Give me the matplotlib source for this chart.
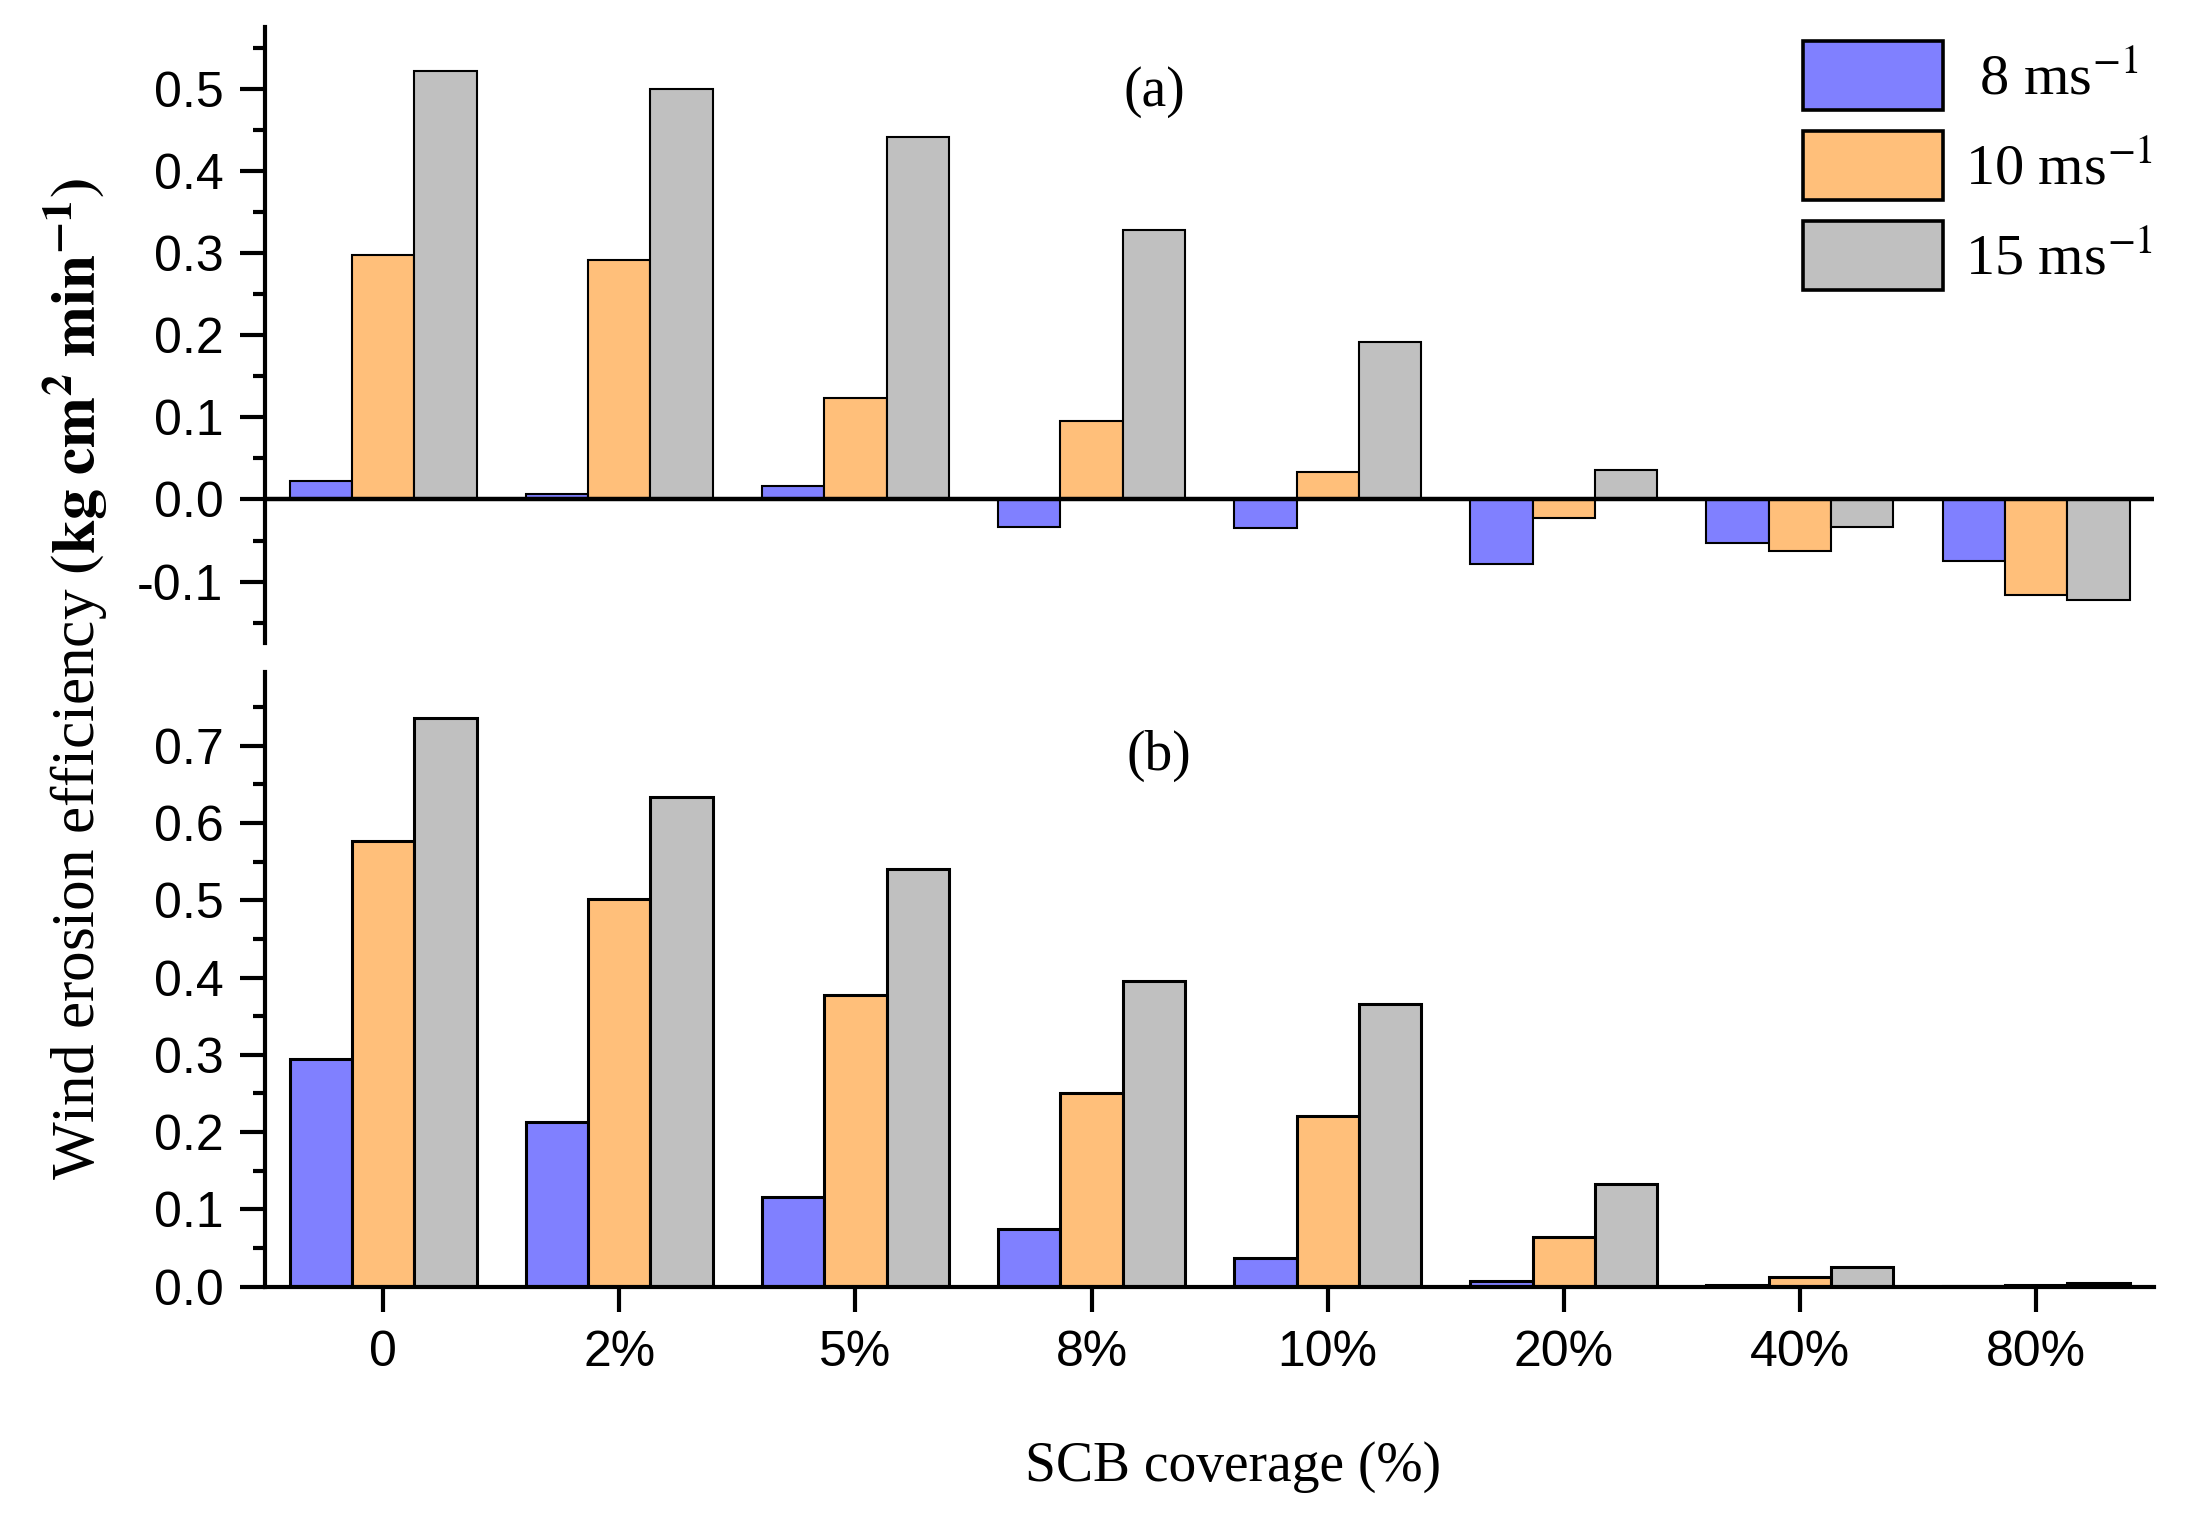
import numpy as np
import matplotlib
matplotlib.use("Agg")
from matplotlib import pyplot as plt
from matplotlib.patches import Patch
from matplotlib.ticker import MultipleLocator, FormatStrFormatter

plt.rcParams['font.family'] = ['Liberation Sans', 'DejaVu Sans']
plt.rcParams['mathtext.fontset'] = 'stix'
plt.rcParams['axes.unicode_minus'] = False

categories = ['0', '2%', '5%', '8%', '10%', '20%', '40%', '80%']
speeds = [' 8 ms$^{-1}$', '10 ms$^{-1}$', '15 ms$^{-1}$']
colors = ['#8080FF', '#FFBF7A', '#C0C0C0']

# panel (a)
a_8 = [0.023, 0.007, 0.016, -0.034, -0.035, -0.078, -0.053, -0.075]
a_10 = [0.297, 0.292, 0.123, 0.095, 0.034, -0.022, -0.063, -0.116]
a_15 = [0.522, 0.500, 0.441, 0.328, 0.192, 0.036, -0.033, -0.122]

# panel (b)
b_8 = [0.295, 0.213, 0.116, 0.074, 0.037, 0.007, 0.002, 0.001]
b_10 = [0.577, 0.502, 0.378, 0.251, 0.221, 0.064, 0.012, 0.002]
b_15 = [0.736, 0.634, 0.540, 0.396, 0.366, 0.133, 0.025, 0.005]

fig = plt.figure(figsize=(21.87, 15.28), dpi=100)
axA = fig.add_axes([0.1212, 0.579, 0.8638, 0.4033])
axB = fig.add_axes([0.1212, 0.158, 0.8638, 0.402])

x = np.arange(len(categories))
w = 0.264

for ax, series, elw in [(axA, [a_8, a_10, a_15], 1.5), (axB, [b_8, b_10, b_15], 2.2)]:
    for i, vals in enumerate(series):
        ax.bar(x + (i - 1) * w, vals, width=w, color=colors[i],
               edgecolor='black', linewidth=elw)
    ax.set_xlim(-0.5, 7.5)
    for s in ['top', 'right']:
        ax.spines[s].set_visible(False)
    ax.spines['left'].set_linewidth(3)
    ax.spines['bottom'].set_linewidth(3)
    ax.yaxis.set_minor_locator(MultipleLocator(0.05))
    ax.yaxis.set_major_locator(MultipleLocator(0.1))
    ax.yaxis.set_major_formatter(FormatStrFormatter('%.1f'))
    ax.tick_params(axis='y', which='major', length=18, width=3, labelsize=36, pad=12)
    ax.tick_params(axis='y', which='minor', length=9, width=3)

# top panel: no bottom spine, zero line instead
axA.set_ylim(-0.175, 0.575)
axA.set_yticks(np.arange(-0.1, 0.51, 0.1))
axA.spines['bottom'].set_visible(False)
axA.axhline(0, color='black', lw=3.2, zorder=5)
axA.set_xticks([])

axB.set_ylim(0, 0.795)
axB.set_yticks(np.arange(0, 0.71, 0.1))
axB.set_xticks(x)
axB.set_xticklabels(categories)
axB.tick_params(axis='x', length=18, width=3, labelsize=36, pad=13)

fig.text(0.528, 0.94, '(a)', ha='center', va='center', fontsize=40,
         family='Liberation Serif')
fig.text(0.530, 0.505, '(b)', ha='center', va='center', fontsize=40,
         family='Liberation Serif')

fig.text(0.035, 0.556, r'Wind erosion efficiency $\mathbf{(kg\ cm^{2}\ min^{-1})}$',
         rotation=90, ha='center', va='center', fontsize=44, family='Liberation Serif')
fig.text(0.564, 0.04, 'SCB coverage (%)', ha='center', va='center', fontsize=40,
         family='Liberation Serif')

handles = [Patch(facecolor=c, edgecolor='black', linewidth=2.6) for c in colors]
fig.legend(handles, speeds, loc='upper left', bbox_to_anchor=(0.8244, 0.9731),
           frameon=False, prop={'family': 'Liberation Serif', 'size': 42},
           handlelength=2.4, handleheight=1.443, handletextpad=0.38,
           labelspacing=0.36, borderpad=0, borderaxespad=0)

fig.savefig('out.png', dpi=100)
